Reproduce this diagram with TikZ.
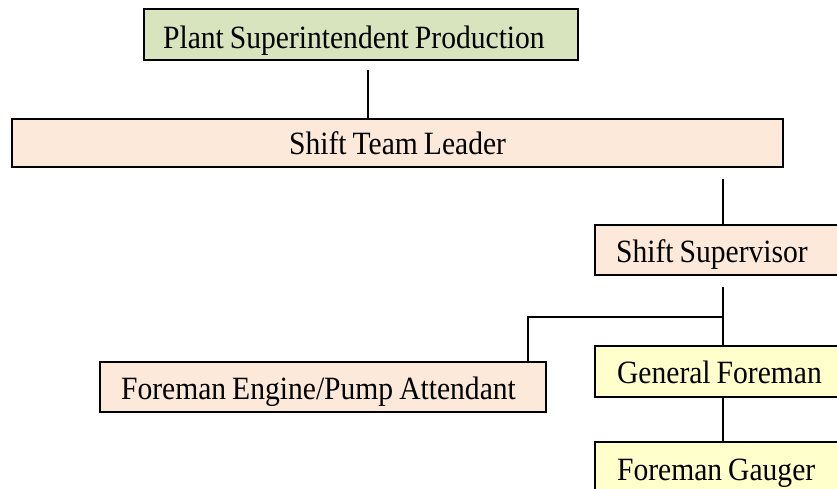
\documentclass[tikz,border=0pt]{standalone}
\usepackage{fontspec}
\setmainfont{Liberation Serif}
\newfontfamily\boxfont[FakeStretch=0.91]{Liberation Serif}
\definecolor{boxgreen}{HTML}{D7E4BD}
\definecolor{boxpeach}{HTML}{FDE9D9}
\definecolor{boxyellow}{HTML}{FFFFCC}
\begin{document}
\begin{tikzpicture}[x=1pt,y=-1pt,
  box/.style={draw=black,line width=2.2pt,anchor=north west,inner xsep=20pt,inner ysep=0pt,
    text height=37pt,text depth=13pt,align=left,font=\boxfont\fontsize{32.5}{38}\selectfont,
    execute at begin node={\spaceskip=6pt\relax}},
  conn/.style={line width=1.4pt}]
\useasboundingbox (0,0) rectangle (837,489);
\clip (0,0) rectangle (837,489);
\node[box,fill=boxgreen,inner xsep=19pt,text width=396pt,text height=39pt,text depth=12pt] (plant) at (143,8) {Plant Superintendent Production};
\node[box,fill=boxpeach,text width=731pt,align=center,text height=35pt] (stl) at (11,118) {Shift Team Leader};
\node[box,fill=boxpeach,inner xsep=21pt,text width=224pt] (ss) at (594,224) {Shift Supervisor};
\node[box,fill=boxyellow,inner xsep=22pt,text width=222pt,text depth=14pt] (gf) at (594,345) {General Foreman};
\node[box,fill=boxyellow,inner xsep=22pt,text width=222pt,text height=38pt] (fg) at (594,441) {Foreman Gauger};
\node[box,fill=boxpeach,inner xsep=21pt,text width=404pt] (fe) at (99,361) {Foreman Engine/Pump Attendant};
\coordinate (p1) at (368,70);
\draw[conn] (p1) -- (p1 |- stl.north);
\coordinate (s1) at (723,179);
\draw[conn] (s1) -- (s1 |- ss.north);
\coordinate (s2) at (723,287);
\draw[conn] (s2) -- (s2 |- gf.north);
\coordinate (b1) at (723,317);
\coordinate (b2) at (528,317);
\draw[conn] (b1) -- (b2) -- (b2 |- fe.north);
\draw[conn] (s2 |- gf.south) -- (s2 |- fg.north);
\end{tikzpicture}
\end{document}
